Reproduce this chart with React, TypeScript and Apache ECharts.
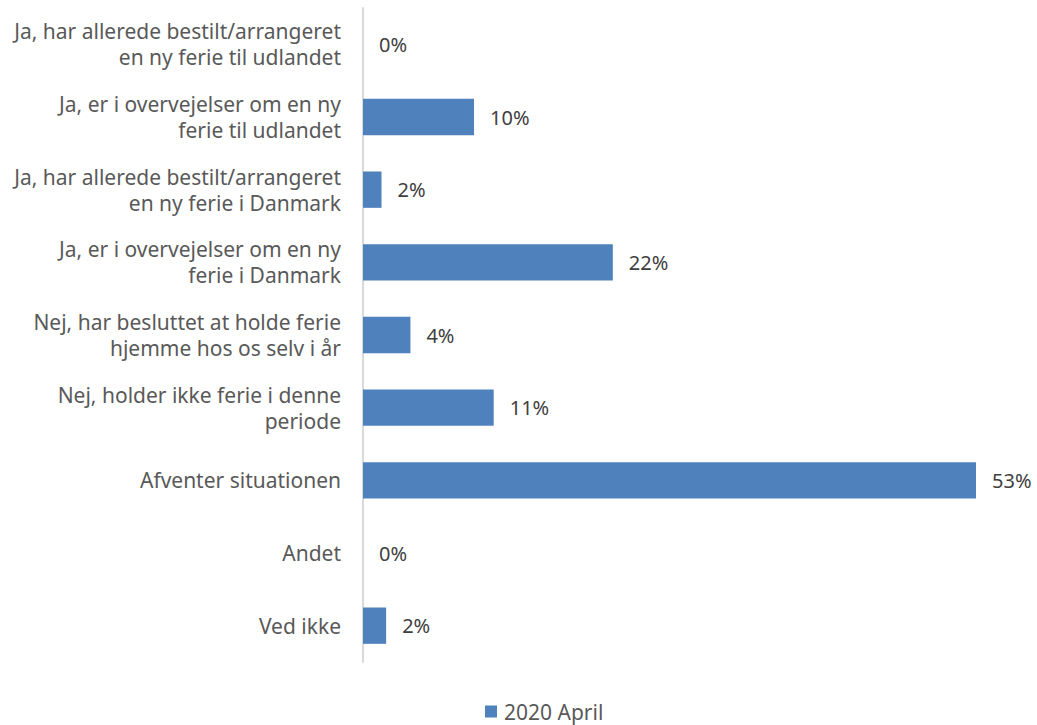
import React, { useEffect, useRef } from "react";
import * as echarts from "echarts";

const categories = [
  "Ja, har allerede bestilt/arrangeret\nen ny ferie til udlandet",
  "Ja, er i overvejelser om en ny\nferie til udlandet",
  "Ja, har allerede bestilt/arrangeret\nen ny ferie i Danmark",
  "Ja, er i overvejelser om en ny\nferie i Danmark",
  "Nej, har besluttet at holde ferie\nhjemme hos os selv i år",
  "Nej, holder ikke ferie i denne\nperiode",
  "Afventer situationen",
  "Andet",
  "Ved ikke",
];
const values2020April = [0, 9.6, 1.6, 21.6, 4.1, 11.3, 53, 0, 2.0];
const seriesName = "2020 April";

export default function App() {
  const ref = useRef<HTMLDivElement>(null);
  useEffect(() => {
    if (!ref.current) return;
    const chart = echarts.init(ref.current, undefined, { renderer: "svg" });
    const font = "'Noto Sans', 'Open Sans', sans-serif";
    chart.setOption({
      animation: false,
      textStyle: { fontFamily: font },
      grid: { left: 363, right: 61, top: 8, bottom: 63, containLabel: false },
      legend: {
        bottom: -2,
        left: 480,
        itemWidth: 12,
        itemHeight: 12,
        itemGap: 6,
        icon: "rect",
        textStyle: { fontSize: 21, color: "#595959", fontFamily: font, padding: [0, 0, 0, 2] },
        data: [seriesName],
      },
      xAxis: {
        type: "value",
        min: 0,
        max: 53,
        show: false,
      },
      yAxis: {
        type: "category",
        inverse: true,
        data: categories,
        axisLine: { show: true, lineStyle: { color: "#d9d9d9", width: 2 } },
        axisTick: { show: false },
        axisLabel: {
          margin: 22,
          fontSize: 21,
          color: "#595959",
          lineHeight: 26,
          align: "right",
          fontFamily: font,
        },
        splitLine: { show: false },
      },
      series: [
        {
          name: seriesName,
          type: "bar",
          data: values2020April,
          barWidth: "50%",
          itemStyle: { color: "#4f81bd" },
          label: {
            show: true,
            position: "right",
            distance: 16,
            fontSize: 20,
            color: "#404040",
            fontFamily: font,
            formatter: (p: any) => Math.round(p.value) + "%",
          },
        },
      ],
    });
    return () => chart.dispose();
  }, []);
  return (
    <div
      ref={ref}
      style={{ position: "absolute", left: 0, top: 0, width: 1037, height: 725, background: "#fff" }}
    />
  );
}
